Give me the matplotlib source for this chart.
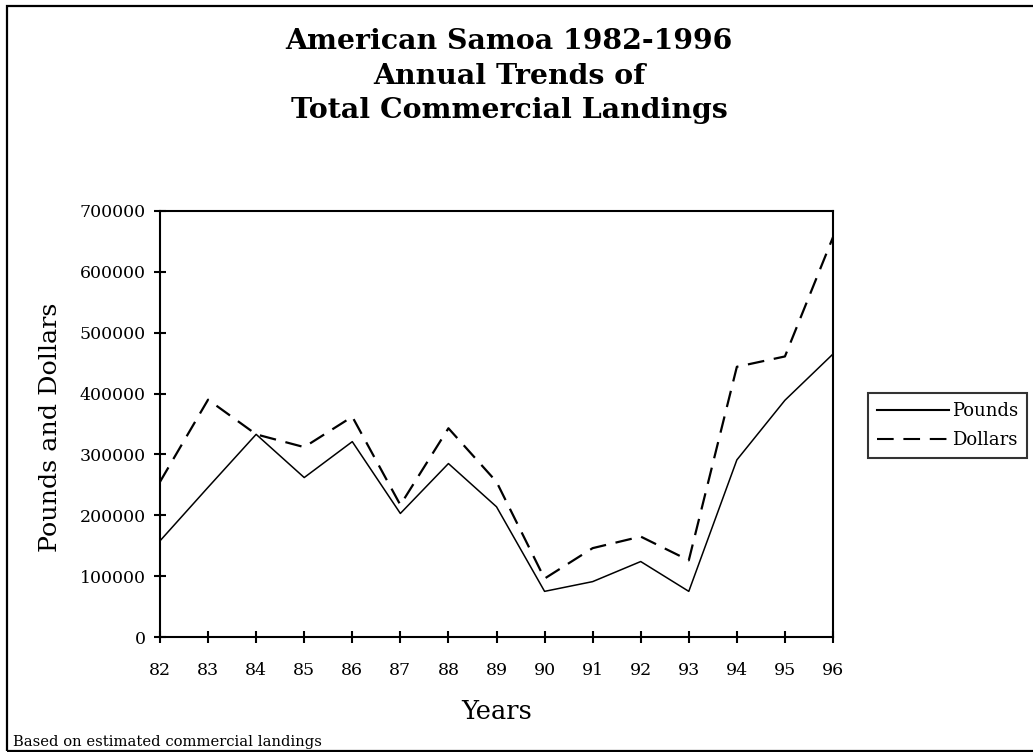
import matplotlib
matplotlib.use("Agg")
import matplotlib.pyplot as plt
from matplotlib.lines import Line2D
from matplotlib.patches import Rectangle


years = ["82", "83", "84", "85", "86", "87", "88", "89", "90", "91", "92", "93", "94", "95", "96"]
pounds = [158000, 246000, 333000, 262000, 321000, 203000, 285000, 214000,
          75000, 91000, 124000, 75000, 291000, 389000, 465000]
dollars = [255000, 390000, 333000, 312000, 362000, 217000, 343000, 255000,
           96000, 146000, 165000, 126000, 444000, 461000, 657000]
y_ticks = [0, 100000, 200000, 300000, 400000, 500000, 600000, 700000]

TITLE = "American Samoa 1982-1996\nAnnual Trends of\nTotal Commercial Landings"
FOOTNOTE = "Based on estimated commercial landings"

W, H = 1033, 752

plt.rcParams.update(
    {
        "font.family": ["DejaVu Serif"],
        "lines.scale_dashes": False,
    }
)

fig = plt.figure(figsize=(W / 100, H / 100), dpi=100)
ax = fig.add_axes([160 / W, 1 - 637 / H, (833 - 160) / W, (637 - 211) / H])

x = list(range(len(years)))
ax.plot(x, pounds, color="black", linewidth=1.1, label="Pounds")
ax.plot(x, dollars, color="black", linewidth=1.6, dashes=(12, 7), label="Dollars")

ax.set_xlim(0, len(years) - 1)
ax.set_ylim(0, 700000)
ax.set_xticks(x)
ax.set_xticklabels(years)
ax.set_yticks(y_ticks)
ax.set_yticklabels([str(v) for v in y_ticks])
ax.tick_params(direction="inout", length=8.5, width=1.5, labelsize=12.5)
ax.tick_params(axis="y", pad=6)
ax.tick_params(axis="x", pad=14)
for spine in ax.spines.values():
    spine.set_linewidth(1.5)

ax.set_xlabel("Years", fontsize=18.5)
ax.xaxis.set_label_coords(0.5, -0.146)
ax.set_ylabel("Pounds and Dollars", fontsize=18.3)
ax.yaxis.set_label_coords(-0.145, 0.492)

fig.text(509 / W, 1 - 76 / H, TITLE, ha="center", va="center", fontsize=20.4,
         fontweight="bold", linespacing=1.36)

fig.text(13 / W, 1 - 746 / H, FOOTNOTE, ha="left", va="baseline", fontsize=10.6)

leg = fig.legend(
    handles=[
        Line2D([], [], color="black", linewidth=1.5),
        Line2D([], [], color="black", linewidth=1.5, dashes=(12, 7)),
    ],
    labels=["Pounds", "Dollars"],
    loc="upper left",
    bbox_to_anchor=(868 / W, 1 - 393 / H),
    fontsize=13,
    handlelength=4.0,
    handletextpad=0.15,
    borderpad=0.5,
    borderaxespad=0,
    labelspacing=0.6,
    fancybox=False,
    frameon=True,
)
leg.get_frame().set_edgecolor("black")
leg.get_frame().set_linewidth(1.5)

# outer chart border (right edge cropped off in the original)
fig.patches.append(
    Rectangle((7 / W, 1 - 751 / H), 1.2, (751 - 6) / H, transform=fig.transFigure,
              fill=False, edgecolor="black", linewidth=1.6, clip_on=False)
)

fig.savefig("out.png", dpi=100)
